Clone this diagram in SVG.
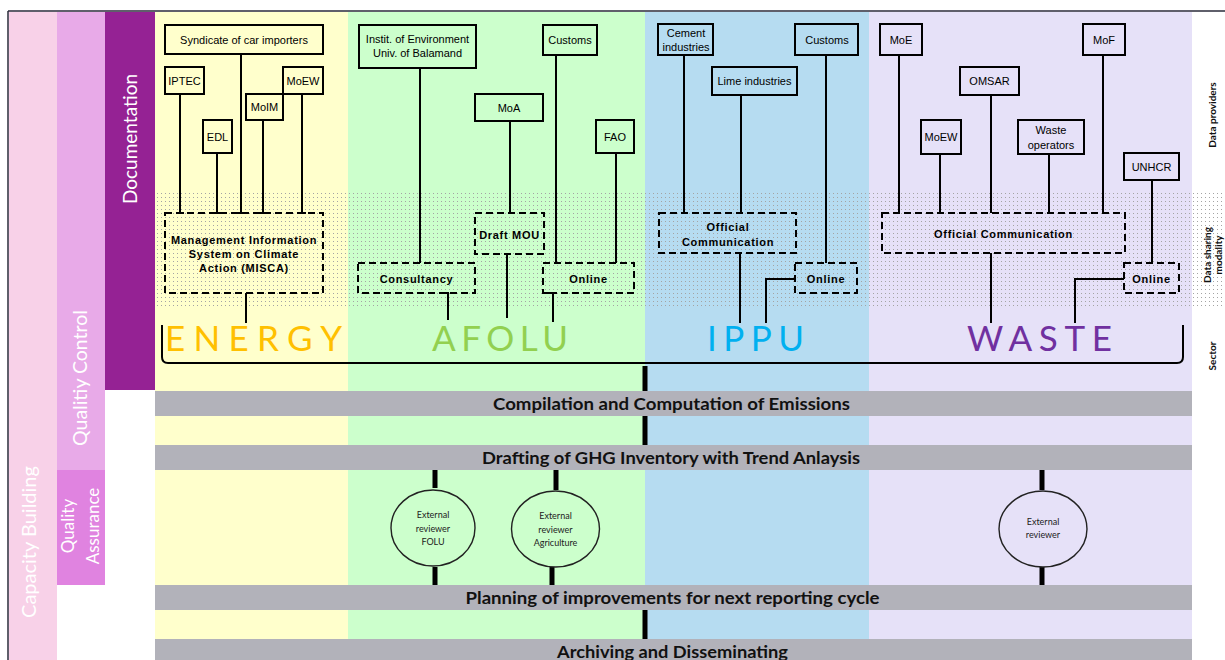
<svg xmlns="http://www.w3.org/2000/svg" width="1225" height="660" viewBox="0 0 1225 660">
<defs>
<pattern id="dots" width="4" height="4" patternUnits="userSpaceOnUse"><rect x="1" y="1" width="1" height="1" fill="#a4a4a4"/></pattern>
<style>
.box{fill:none;stroke:#000;stroke-width:2}
.dbox{fill:none;stroke:#000;stroke-width:2;stroke-dasharray:7,4}
.ln{fill:none;stroke:#000;stroke-width:2}
.thick{fill:none;stroke:#000;stroke-width:5}
.pt{font-family:"Liberation Sans",Arial,sans-serif;font-size:11px;fill:#000;text-anchor:middle}
.dt{font-family:"Liberation Sans",Arial,sans-serif;font-size:11px;font-weight:bold;letter-spacing:0.7px;fill:#000;text-anchor:middle}
.bar{fill:#b2b2ba}
.bt{font-family:Lato,"Open Sans",sans-serif;font-size:17px;font-weight:bold;fill:#111;text-anchor:middle}
.sec{font-family:Lato,"Open Sans",sans-serif;font-size:35px;font-weight:normal}
.ct{font-family:Lato,"Open Sans",sans-serif;font-size:9px;fill:#222;text-anchor:middle}
.rev{fill:none;stroke:#222;stroke-width:1.4}
.lt{font-family:Lato,"Open Sans",sans-serif;fill:#fff;text-anchor:middle}
.rt{font-family:Lato,"Open Sans",sans-serif;font-size:10px;font-weight:bold;fill:#111;text-anchor:middle}
</style>
</defs>
<rect width="1225" height="660" fill="#fff"/>
<g id="background">
<rect x="9" y="12" width="48" height="648" fill="#f8d1e8"/>
<rect x="57" y="12" width="48" height="458" fill="#e8aae8"/>
<rect x="57" y="470" width="48" height="115" fill="#e083e0"/>
<rect x="105" y="12" width="50" height="378" fill="#952294"/>
<rect x="155" y="12" width="193" height="648" fill="#ffffcc"/>
<rect x="348" y="12" width="297" height="648" fill="#ccffcc"/>
<rect x="645" y="12" width="224" height="648" fill="#b6dcf1"/>
<rect x="869" y="12" width="323" height="648" fill="#e6e1f8"/>
<rect x="155" y="193" width="1070" height="114" fill="url(#dots)"/>
<line x1="8" y1="11" x2="1225" y2="11" stroke="#2a2a3a" stroke-width="1.5"/>
<line x1="8" y1="11" x2="8" y2="660" stroke="#2a2a3a" stroke-width="1.5"/>
</g>
<g id="left-labels">
<text class="lt" font-size="20" transform="translate(36,542) rotate(-90)">Capacity Building</text>
<text class="lt" font-size="19.5" transform="translate(87,378) rotate(-90)">Qualitiy Control</text>
<text class="lt" font-size="17" transform="translate(74,526) rotate(-90)">Quality</text>
<text class="lt" font-size="17" transform="translate(99,526) rotate(-90)">Assurance</text>
<text class="lt" font-size="19" transform="translate(137,139) rotate(-90)">Documentation</text>
</g>
<g id="right-labels">
<text class="rt" transform="translate(1216,115) rotate(-90)">Data providers</text>
<text class="rt" transform="translate(1211,255) rotate(-90)">Data sharing</text>
<text class="rt" transform="translate(1222,255) rotate(-90)">modality</text>
<text class="rt" transform="translate(1216,356) rotate(-90)">Sector</text>
</g>
<g id="connectors">
<path class="ln" d="M180,94V213M176,213H184M217,153V213M213,213H221M241,54V213M237,213H245M263,120V213M259,213H267M302,94V213M298,213H306"/>
<path class="ln" d="M420,68V263M510,121V213M556,55V263M616,153V263"/>
<path class="ln" d="M684,55V213M741,95V213M826,55V263"/>
<path class="ln" d="M899,55V213M940,154V213M991,95V213M1049,154V213M1103,55V213M1152,180V263"/>
<path class="ln" d="M246,293V323M443,293H448V320M507,254V318M546,293H553V322M740,253V323M795,279H766V323M991,253V323M1124,279H1075V323"/>
<path class="ln" d="M162,325V357Q162,363 168,363H1177Q1183,363 1183,357V325"/>
<path class="thick" d="M645,366V391M645,416V445M645,610V639"/>
<path class="thick" d="M435,470V488M435,567V585M556,470V490M552,567V585M1042,470V490M1042,567V585"/>
</g>
<g id="providers">
<g id="syndicate"><rect class="box" x="165" y="25" width="158" height="29"/><text class="pt" x="244" y="44">Syndicate of car importers</text></g>
<g id="iptec"><rect class="box" x="165" y="67" width="39" height="27"/><text class="pt" x="184.5" y="84.5">IPTEC</text></g>
<g id="edl"><rect class="box" x="203" y="120" width="29" height="33"/><text class="pt" x="217.5" y="140.5">EDL</text></g>
<g id="moim"><rect class="box" x="246" y="94" width="37" height="26"/><text class="pt" x="264.5" y="111">MoIM</text></g>
<g id="moew-energy"><rect class="box" x="283" y="67" width="40" height="27"/><text class="pt" x="303" y="84.5">MoEW</text></g>
<g id="instit"><rect class="box" x="359" y="25" width="117" height="43"/><text class="pt" x="417.5" y="43">Instit. of Environment</text><text class="pt" x="417.5" y="57">Univ. of Balamand</text></g>
<g id="moa"><rect class="box" x="475" y="94" width="68" height="27"/><text class="pt" x="509" y="111.5">MoA</text></g>
<g id="customs-afolu"><rect class="box" x="543" y="25" width="54" height="30"/><text class="pt" x="570" y="44">Customs</text></g>
<g id="fao"><rect class="box" x="596" y="120" width="38" height="33"/><text class="pt" x="615" y="140.5">FAO</text></g>
<g id="cement"><rect class="box" x="658" y="24" width="55" height="31"/><text class="pt" x="686" y="36.5">Cement</text><text class="pt" x="686" y="51">industries</text></g>
<g id="lime"><rect class="box" x="712" y="67" width="85" height="28"/><text class="pt" x="754.5" y="85">Lime industries</text></g>
<g id="customs-ippu"><rect class="box" x="795" y="24" width="63" height="31"/><text class="pt" x="827" y="44">Customs</text></g>
<g id="moe"><rect class="box" x="880" y="24" width="42" height="31"/><text class="pt" x="901" y="44">MoE</text></g>
<g id="moew-waste"><rect class="box" x="921" y="120" width="40" height="34"/><text class="pt" x="941" y="141">MoEW</text></g>
<g id="omsar"><rect class="box" x="960" y="67" width="59" height="28"/><text class="pt" x="989.5" y="85">OMSAR</text></g>
<g id="waste-operators"><rect class="box" x="1018" y="120" width="66" height="34"/><text class="pt" x="1051" y="134">Waste</text><text class="pt" x="1051" y="149">operators</text></g>
<g id="mof"><rect class="box" x="1083" y="24" width="42" height="31"/><text class="pt" x="1104" y="44">MoF</text></g>
<g id="unhcr"><rect class="box" x="1124" y="153" width="55" height="27"/><text class="pt" x="1151.5" y="170.5">UNHCR</text></g>
</g>
<g id="modalities">
<g id="misca"><rect class="dbox" x="165" y="213" width="158" height="80"/><text class="dt" x="244" y="244">Management Information</text><text class="dt" x="244" y="257.5">System on Climate</text><text class="dt" x="244" y="271.5">Action (MISCA)</text></g>
<g id="consultancy"><rect class="dbox" x="358" y="263" width="117" height="30"/><text class="dt" x="416.5" y="282.5">Consultancy</text></g>
<g id="draft-mou"><rect class="dbox" x="475" y="213" width="69" height="41"/><text class="dt" x="509.5" y="239">Draft MOU</text></g>
<g id="online-afolu"><rect class="dbox" x="543" y="263" width="91" height="30"/><text class="dt" x="588.5" y="282.5">Online</text></g>
<g id="oc-ippu"><rect class="dbox" x="659" y="213" width="137" height="40"/><text class="dt" x="728" y="231">Official</text><text class="dt" x="728" y="245.5">Communication</text></g>
<g id="online-ippu"><rect class="dbox" x="795" y="263" width="62" height="30"/><text class="dt" x="826" y="282.5">Online</text></g>
<g id="oc-waste"><rect class="dbox" x="882" y="213" width="243" height="40"/><text class="dt" x="1003.5" y="237.5">Official Communication</text></g>
<g id="online-waste"><rect class="dbox" x="1124" y="263" width="55" height="30"/><text class="dt" x="1151.5" y="282.5">Online</text></g>
</g>
<g id="sectors">
<text class="sec" x="165" y="351" fill="#ffc000" textLength="177" lengthAdjust="spacing">ENERGY</text>
<text class="sec" x="432" y="351" fill="#92d050" textLength="136" lengthAdjust="spacing">AFOLU</text>
<text class="sec" x="707" y="351" fill="#00b0f0" textLength="97" lengthAdjust="spacing">IPPU</text>
<text class="sec" x="967" y="351" fill="#7030a0" textLength="145" lengthAdjust="spacing">WASTE</text>
</g>
<g id="steps">
<g id="compilation"><rect class="bar" x="155" y="391" width="1037" height="25"/><text class="bt" x="671.5" y="410" textLength="357" lengthAdjust="spacingAndGlyphs">Compilation and Computation of Emissions</text></g>
<g id="drafting"><rect class="bar" x="155" y="445" width="1037" height="25"/><text class="bt" x="671" y="464" textLength="378" lengthAdjust="spacingAndGlyphs">Drafting of GHG Inventory with Trend Anlaysis</text></g>
<g id="planning"><rect class="bar" x="155" y="585" width="1037" height="25"/><text class="bt" x="672.5" y="604" textLength="414" lengthAdjust="spacingAndGlyphs">Planning of improvements for next reporting cycle</text></g>
<g id="archiving"><rect class="bar" x="155" y="639" width="1037" height="21"/><text class="bt" x="672.5" y="658" textLength="231" lengthAdjust="spacingAndGlyphs">Archiving and Disseminating</text></g>
</g>
<g id="reviewers">
<g id="reviewer-folu"><ellipse class="rev" cx="433" cy="528" rx="42" ry="38"/><text class="ct" x="433" y="518">External</text><text class="ct" x="433" y="531.5">reviewer</text><text class="ct" x="433" y="545">FOLU</text></g>
<g id="reviewer-agriculture"><ellipse class="rev" cx="555.5" cy="529" rx="44" ry="38"/><text class="ct" x="555.5" y="519">External</text><text class="ct" x="555.5" y="532.5">reviewer</text><text class="ct" x="555.5" y="546">Agriculture</text></g>
<g id="reviewer-waste"><ellipse class="rev" cx="1043" cy="529" rx="44" ry="38"/><text class="ct" x="1043" y="524.5">External</text><text class="ct" x="1043" y="537.5">reviewer</text></g>
</g>
</svg>
